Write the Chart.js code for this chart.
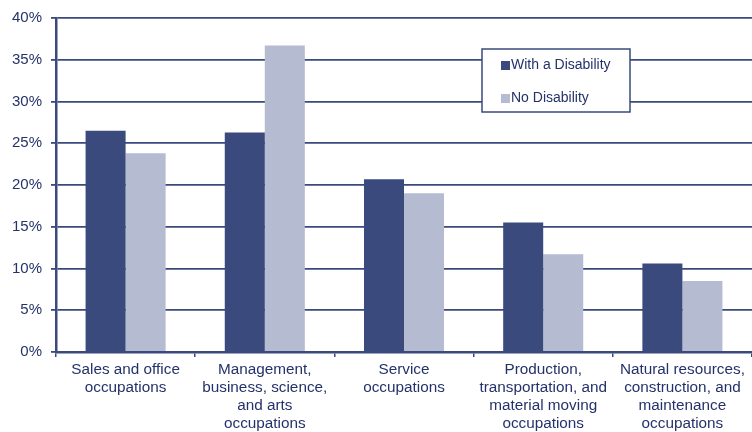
<!DOCTYPE html>
<html>
<head>
<meta charset="utf-8">
<script src="https://cdn.jsdelivr.net/npm/chart.js@4/dist/chart.umd.min.js"></script>
<style>
  html, body { margin: 0; padding: 0; background: #fff; }
  #wrap { width: 752px; height: 432px; }
</style>
</head>
<body>
<div id="wrap"><canvas id="chart" width="752" height="432"></canvas></div>
<script>
const categories = [
    ['Sales and office', 'occupations'],
    ['Management,', 'business, science,', 'and arts', 'occupations'],
    ['Service', 'occupations'],
    ['Production,', 'transportation, and', 'material moving', 'occupations'],
    ['Natural resources,', 'construction, and', 'maintenance', 'occupations'],
];
const withDisability = [26.5, 26.3, 20.7, 15.5, 10.6];
const noDisability = [23.8, 36.7, 19.0, 11.7, 8.5];
const yTicks = [0, 5, 10, 15, 20, 25, 30, 35, 40];

const NAVY = '#3b4a7c';
const LIGHT = '#b5bbd0';
const TEXT = '#24326a';
const FONT = '"Liberation Sans", Arial, sans-serif';

// legend box drawn inside the plot, over the grid lines
const boxLegend = {
    id: 'boxLegend',
    afterDatasetsDraw(chart) {
        const ctx = chart.ctx;
        const area = chart.chartArea;
        const x = area.left + 426;
        const y = area.top + 31;
        const w = 148;
        const h = 63;
        ctx.save();
        ctx.fillStyle = '#fff';
        ctx.fillRect(x, y, w, h);
        ctx.strokeStyle = NAVY;
        ctx.lineWidth = 1.5;
        ctx.strokeRect(x, y, w, h);
        ctx.font = '14px ' + FONT;
        ctx.textBaseline = 'middle';
        chart.data.datasets.forEach((ds, i) => {
            const cy = y + 16 + i * 33;
            ctx.fillStyle = ds.backgroundColor;
            ctx.fillRect(x + 19, cy - 4, 9, 9);
            ctx.fillStyle = TEXT;
            ctx.fillText(ds.label, x + 29, cy);
        });
        ctx.restore();
    },
};

new Chart(document.getElementById('chart'), {
    type: 'bar',
    data: {
        labels: categories,
        datasets: [
            {
                label: 'With a Disability',
                data: withDisability,
                backgroundColor: NAVY,
                categoryPercentage: 0.575,
                barPercentage: 1,
            },
            {
                label: 'No Disability',
                data: noDisability,
                backgroundColor: LIGHT,
                categoryPercentage: 0.575,
                barPercentage: 1,
            },
        ],
    },
    options: {
        responsive: false,
        animation: false,
        layout: { padding: { top: 17, right: 0, left: 0, bottom: 0 } },
        plugins: {
            legend: { display: false },
            tooltip: { enabled: false },
        },
        scales: {
            x: {
                grid: {
                    drawOnChartArea: false,
                    drawTicks: true,
                    tickLength: 5,
                    color: NAVY,
                    lineWidth: 1.5,
                },
                border: { display: true, color: NAVY, width: 2.5 },
                ticks: {
                    color: TEXT,
                    font: { family: FONT, size: 15.3, lineHeight: 1.17 },
                    maxRotation: 0,
                    autoSkip: false,
                    padding: 4,
                },
                afterFit(scale) { scale.height = 80; },
            },
            y: {
                min: 0,
                max: 40,
                afterBuildTicks(scale) {
                    scale.ticks = yTicks.map((v) => ({ value: v }));
                },
                grid: {
                    color: NAVY,
                    lineWidth: 1.8,
                    tickLength: 5,
                },
                border: { display: true, color: NAVY, width: 2.5 },
                ticks: {
                    color: TEXT,
                    font: { family: FONT, size: 15 },
                    padding: 9,
                    callback: (v) => v + '%',
                },
                afterFit(scale) { scale.width = 56; },
            },
        },
    },
    plugins: [boxLegend],
});
</script>
</body>
</html>
